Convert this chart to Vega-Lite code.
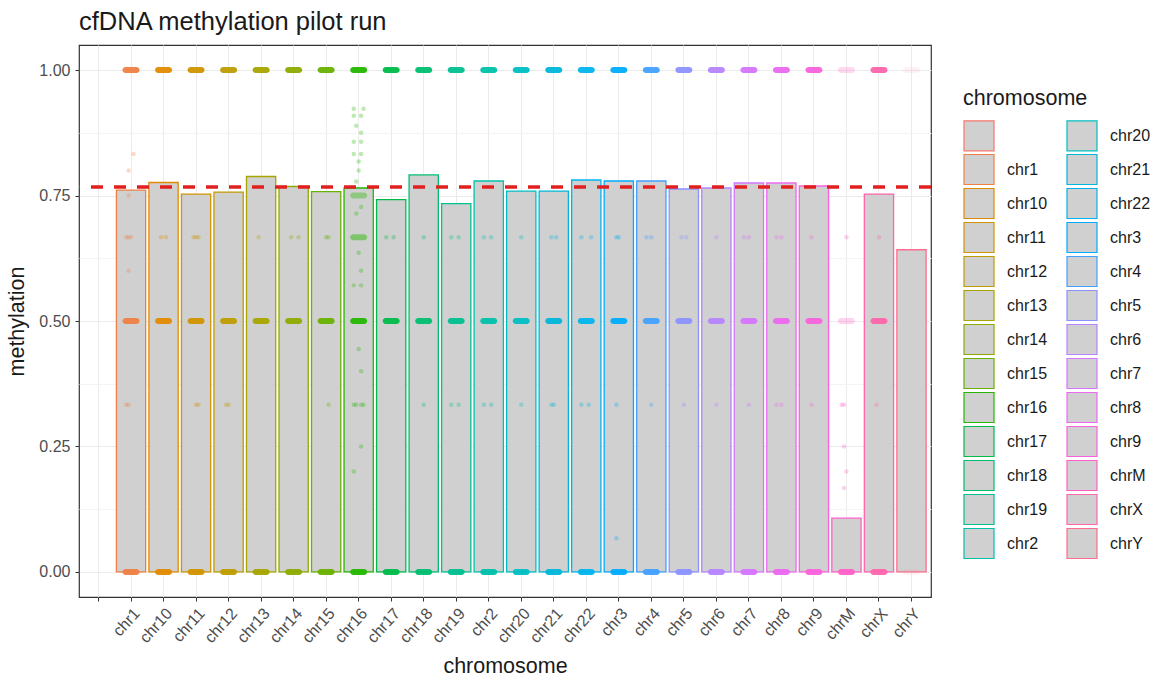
{
  "$schema": "https://vega.github.io/schema/vega-lite/v6.json",
  "width": 852,
  "height": 552,
  "autosize": {"type": "none"},
  "padding": {"left": 79, "top": 45, "right": 230, "bottom": 80},
  "title": {"text": "cfDNA methylation pilot run", "anchor": "start", "frame": "group", "fontSize": 25.5, "fontWeight": "normal", "color": "#1a1a1a", "offset": 10, "font": "Liberation Sans"},
  "config": {
    "font": "Liberation Sans",
    "view": {"stroke": "#333333", "strokeWidth": 1.2},
    "axis": {"domain": false, "grid": true, "gridColor": "#EBEBEB", "gridWidth": 1, "tickColor": "#333333", "tickSize": 4, "labelColor": "#4D4D4D", "labelFontSize": 16, "titleFontSize": 21.5, "titleFontWeight": "normal", "titleColor": "#1a1a1a"},
    "legend": {"orient": "none", "legendX": 884, "legendY": 43, "columns": 2, "symbolType": "square", "symbolSize": 900, "symbolStrokeWidth": 1.2, "labelFontSize": 16, "labelColor": "#1a1a1a", "titleFontSize": 21.5, "titleFontWeight": "normal", "titleColor": "#1a1a1a", "rowPadding": -2.5, "columnPadding": 16, "labelOffset": 12, "titlePadding": 10, "padding": 0, "symbolOpacity": 1}
  },
  "resolve": {"scale": {"xOffset": "independent"}},
  "datasets": {
    "bars": [
      {"chromosome": "chr1", "methylation": 0.761},
      {"chromosome": "chr10", "methylation": 0.776},
      {"chromosome": "chr11", "methylation": 0.753},
      {"chromosome": "chr12", "methylation": 0.757},
      {"chromosome": "chr13", "methylation": 0.788},
      {"chromosome": "chr14", "methylation": 0.768},
      {"chromosome": "chr15", "methylation": 0.758},
      {"chromosome": "chr16", "methylation": 0.765},
      {"chromosome": "chr17", "methylation": 0.742},
      {"chromosome": "chr18", "methylation": 0.791},
      {"chromosome": "chr19", "methylation": 0.734},
      {"chromosome": "chr2", "methylation": 0.779},
      {"chromosome": "chr20", "methylation": 0.759},
      {"chromosome": "chr21", "methylation": 0.759},
      {"chromosome": "chr22", "methylation": 0.781},
      {"chromosome": "chr3", "methylation": 0.779},
      {"chromosome": "chr4", "methylation": 0.779},
      {"chromosome": "chr5", "methylation": 0.763},
      {"chromosome": "chr6", "methylation": 0.765},
      {"chromosome": "chr7", "methylation": 0.775},
      {"chromosome": "chr8", "methylation": 0.775},
      {"chromosome": "chr9", "methylation": 0.769},
      {"chromosome": "chrM", "methylation": 0.107},
      {"chromosome": "chrX", "methylation": 0.753},
      {"chromosome": "chrY", "methylation": 0.642}
    ],
    "dash": [
      {"chromosome": "chr1", "methylation": 0, "n": 40}, {"chromosome": "chr1", "methylation": 0.5, "n": 40}, {"chromosome": "chr1", "methylation": 1, "n": 40},
      {"chromosome": "chr10", "methylation": 0, "n": 40}, {"chromosome": "chr10", "methylation": 0.5, "n": 40}, {"chromosome": "chr10", "methylation": 1, "n": 40},
      {"chromosome": "chr11", "methylation": 0, "n": 40}, {"chromosome": "chr11", "methylation": 0.5, "n": 40}, {"chromosome": "chr11", "methylation": 1, "n": 40},
      {"chromosome": "chr12", "methylation": 0, "n": 40}, {"chromosome": "chr12", "methylation": 0.5, "n": 40}, {"chromosome": "chr12", "methylation": 1, "n": 40},
      {"chromosome": "chr13", "methylation": 0, "n": 40}, {"chromosome": "chr13", "methylation": 0.5, "n": 40}, {"chromosome": "chr13", "methylation": 1, "n": 40},
      {"chromosome": "chr14", "methylation": 0, "n": 40}, {"chromosome": "chr14", "methylation": 0.5, "n": 40}, {"chromosome": "chr14", "methylation": 1, "n": 40},
      {"chromosome": "chr15", "methylation": 0, "n": 40}, {"chromosome": "chr15", "methylation": 0.5, "n": 40}, {"chromosome": "chr15", "methylation": 1, "n": 40},
      {"chromosome": "chr16", "methylation": 0, "n": 40}, {"chromosome": "chr16", "methylation": 0.5, "n": 40}, {"chromosome": "chr16", "methylation": 1, "n": 40},
      {"chromosome": "chr16", "methylation": 0.75, "n": 8}, {"chromosome": "chr16", "methylation": 0.667, "n": 10},
      {"chromosome": "chr17", "methylation": 0, "n": 40}, {"chromosome": "chr17", "methylation": 0.5, "n": 40}, {"chromosome": "chr17", "methylation": 1, "n": 40},
      {"chromosome": "chr18", "methylation": 0, "n": 40}, {"chromosome": "chr18", "methylation": 0.5, "n": 40}, {"chromosome": "chr18", "methylation": 1, "n": 40},
      {"chromosome": "chr19", "methylation": 0, "n": 40}, {"chromosome": "chr19", "methylation": 0.5, "n": 40}, {"chromosome": "chr19", "methylation": 1, "n": 40},
      {"chromosome": "chr2", "methylation": 0, "n": 40}, {"chromosome": "chr2", "methylation": 0.5, "n": 40}, {"chromosome": "chr2", "methylation": 1, "n": 40},
      {"chromosome": "chr20", "methylation": 0, "n": 40}, {"chromosome": "chr20", "methylation": 0.5, "n": 40}, {"chromosome": "chr20", "methylation": 1, "n": 40},
      {"chromosome": "chr21", "methylation": 0, "n": 40}, {"chromosome": "chr21", "methylation": 0.5, "n": 40}, {"chromosome": "chr21", "methylation": 1, "n": 40},
      {"chromosome": "chr22", "methylation": 0, "n": 40}, {"chromosome": "chr22", "methylation": 0.5, "n": 40}, {"chromosome": "chr22", "methylation": 1, "n": 40},
      {"chromosome": "chr3", "methylation": 0, "n": 40}, {"chromosome": "chr3", "methylation": 0.5, "n": 40}, {"chromosome": "chr3", "methylation": 1, "n": 40},
      {"chromosome": "chr4", "methylation": 0, "n": 40}, {"chromosome": "chr4", "methylation": 0.5, "n": 40}, {"chromosome": "chr4", "methylation": 1, "n": 40},
      {"chromosome": "chr5", "methylation": 0, "n": 40}, {"chromosome": "chr5", "methylation": 0.5, "n": 40}, {"chromosome": "chr5", "methylation": 1, "n": 40},
      {"chromosome": "chr6", "methylation": 0, "n": 40}, {"chromosome": "chr6", "methylation": 0.5, "n": 40}, {"chromosome": "chr6", "methylation": 1, "n": 40},
      {"chromosome": "chr7", "methylation": 0, "n": 40}, {"chromosome": "chr7", "methylation": 0.5, "n": 40}, {"chromosome": "chr7", "methylation": 1, "n": 40},
      {"chromosome": "chr8", "methylation": 0, "n": 40}, {"chromosome": "chr8", "methylation": 0.5, "n": 40}, {"chromosome": "chr8", "methylation": 1, "n": 40},
      {"chromosome": "chr9", "methylation": 0, "n": 40}, {"chromosome": "chr9", "methylation": 0.5, "n": 40}, {"chromosome": "chr9", "methylation": 1, "n": 40},
      {"chromosome": "chrM", "methylation": 0, "n": 40}, {"chromosome": "chrM", "methylation": 0.5, "n": 6}, {"chromosome": "chrM", "methylation": 1, "n": 5},
      {"chromosome": "chrX", "methylation": 0, "n": 40}, {"chromosome": "chrX", "methylation": 0.5, "n": 40}, {"chromosome": "chrX", "methylation": 1, "n": 40},
      {"chromosome": "chrY", "methylation": 0, "n": 2}, {"chromosome": "chrY", "methylation": 1, "n": 2}
    ],
    "pts": [
      {"chromosome": "chr1", "methylation": 0.833, "j": 1}, {"chromosome": "chr1", "methylation": 0.8, "j": -1}, {"chromosome": "chr1", "methylation": 0.75, "j": -1},
      {"chromosome": "chr1", "methylation": 0.667, "j": -2}, {"chromosome": "chr1", "methylation": 0.667, "j": -1}, {"chromosome": "chr1", "methylation": 0.667, "j": 0},
      {"chromosome": "chr1", "methylation": 0.6, "j": -1}, {"chromosome": "chr1", "methylation": 0.333, "j": -2}, {"chromosome": "chr1", "methylation": 0.333, "j": -1},
      {"chromosome": "chr10", "methylation": 0.667, "j": -1}, {"chromosome": "chr10", "methylation": 0.667, "j": 1},
      {"chromosome": "chr11", "methylation": 0.667, "j": -1}, {"chromosome": "chr11", "methylation": 0.667, "j": 0}, {"chromosome": "chr11", "methylation": 0.667, "j": 1},
      {"chromosome": "chr11", "methylation": 0.333, "j": 0}, {"chromosome": "chr11", "methylation": 0.333, "j": 1},
      {"chromosome": "chr12", "methylation": 0.333, "j": -1}, {"chromosome": "chr12", "methylation": 0.333, "j": 0},
      {"chromosome": "chr13", "methylation": 0.667, "j": -1},
      {"chromosome": "chr14", "methylation": 0.667, "j": -1}, {"chromosome": "chr14", "methylation": 0.667, "j": 2},
      {"chromosome": "chr15", "methylation": 0.667, "j": 0}, {"chromosome": "chr15", "methylation": 0.667, "j": 1}, {"chromosome": "chr15", "methylation": 0.333, "j": 1},
      {"chromosome": "chr16", "methylation": 0.923, "j": -2}, {"chromosome": "chr16", "methylation": 0.923, "j": 2}, {"chromosome": "chr16", "methylation": 0.909, "j": -2},
      {"chromosome": "chr16", "methylation": 0.909, "j": 1}, {"chromosome": "chr16", "methylation": 0.889, "j": -1}, {"chromosome": "chr16", "methylation": 0.875, "j": 1},
      {"chromosome": "chr16", "methylation": 0.857, "j": -2}, {"chromosome": "chr16", "methylation": 0.857, "j": 1}, {"chromosome": "chr16", "methylation": 0.833, "j": -2},
      {"chromosome": "chr16", "methylation": 0.833, "j": 1}, {"chromosome": "chr16", "methylation": 0.818, "j": 0}, {"chromosome": "chr16", "methylation": 0.8, "j": 0},
      {"chromosome": "chr16", "methylation": 0.778, "j": -1}, {"chromosome": "chr16", "methylation": 0.727, "j": 1}, {"chromosome": "chr16", "methylation": 0.714, "j": -1},
      {"chromosome": "chr16", "methylation": 0.636, "j": 0}, {"chromosome": "chr16", "methylation": 0.6, "j": 1}, {"chromosome": "chr16", "methylation": 0.571, "j": -2},
      {"chromosome": "chr16", "methylation": 0.571, "j": 1}, {"chromosome": "chr16", "methylation": 0.444, "j": 0}, {"chromosome": "chr16", "methylation": 0.4, "j": 1},
      {"chromosome": "chr16", "methylation": 0.333, "j": -2}, {"chromosome": "chr16", "methylation": 0.333, "j": -1}, {"chromosome": "chr16", "methylation": 0.333, "j": 1},
      {"chromosome": "chr16", "methylation": 0.333, "j": 2}, {"chromosome": "chr16", "methylation": 0.25, "j": 1}, {"chromosome": "chr16", "methylation": 0.2, "j": -2},
      {"chromosome": "chr17", "methylation": 0.667, "j": -2}, {"chromosome": "chr17", "methylation": 0.667, "j": 1},
      {"chromosome": "chr18", "methylation": 0.667, "j": 0}, {"chromosome": "chr18", "methylation": 0.333, "j": 0},
      {"chromosome": "chr19", "methylation": 0.667, "j": -2}, {"chromosome": "chr19", "methylation": 0.667, "j": 1}, {"chromosome": "chr19", "methylation": 0.333, "j": -2}, {"chromosome": "chr19", "methylation": 0.333, "j": 1},
      {"chromosome": "chr2", "methylation": 0.667, "j": -2}, {"chromosome": "chr2", "methylation": 0.667, "j": 1}, {"chromosome": "chr2", "methylation": 0.333, "j": -2}, {"chromosome": "chr2", "methylation": 0.333, "j": 1},
      {"chromosome": "chr20", "methylation": 0.667, "j": 0}, {"chromosome": "chr20", "methylation": 0.333, "j": 0},
      {"chromosome": "chr21", "methylation": 0.667, "j": -1}, {"chromosome": "chr21", "methylation": 0.667, "j": 1}, {"chromosome": "chr21", "methylation": 0.333, "j": -1}, {"chromosome": "chr21", "methylation": 0.333, "j": 0},
      {"chromosome": "chr22", "methylation": 0.667, "j": -2}, {"chromosome": "chr22", "methylation": 0.667, "j": 2}, {"chromosome": "chr22", "methylation": 0.333, "j": -2}, {"chromosome": "chr22", "methylation": 0.333, "j": 1},
      {"chromosome": "chr3", "methylation": 0.667, "j": -1}, {"chromosome": "chr3", "methylation": 0.667, "j": 0}, {"chromosome": "chr3", "methylation": 0.333, "j": -1}, {"chromosome": "chr3", "methylation": 0.067, "j": -1},
      {"chromosome": "chr4", "methylation": 0.667, "j": -2}, {"chromosome": "chr4", "methylation": 0.667, "j": 0}, {"chromosome": "chr4", "methylation": 0.333, "j": 0},
      {"chromosome": "chr5", "methylation": 0.667, "j": -1}, {"chromosome": "chr5", "methylation": 0.667, "j": 1}, {"chromosome": "chr5", "methylation": 0.333, "j": 0},
      {"chromosome": "chr6", "methylation": 0.667, "j": 0}, {"chromosome": "chr6", "methylation": 0.333, "j": 0},
      {"chromosome": "chr7", "methylation": 0.667, "j": -2}, {"chromosome": "chr7", "methylation": 0.667, "j": 0}, {"chromosome": "chr7", "methylation": 0.333, "j": 0},
      {"chromosome": "chr8", "methylation": 0.667, "j": -2}, {"chromosome": "chr8", "methylation": 0.667, "j": 0}, {"chromosome": "chr8", "methylation": 0.333, "j": -2}, {"chromosome": "chr8", "methylation": 0.333, "j": 0},
      {"chromosome": "chr9", "methylation": 0.667, "j": -1}, {"chromosome": "chr9", "methylation": 0.333, "j": -1},
      {"chromosome": "chrM", "methylation": 0.667, "j": 0}, {"chromosome": "chrM", "methylation": 0.333, "j": -2}, {"chromosome": "chrM", "methylation": 0.333, "j": -1},
      {"chromosome": "chrM", "methylation": 0.25, "j": -1}, {"chromosome": "chrM", "methylation": 0.2, "j": 0}, {"chromosome": "chrM", "methylation": 0.167, "j": -1},
      {"chromosome": "chrX", "methylation": 0.667, "j": 0}, {"chromosome": "chrX", "methylation": 0.333, "j": -1}
    ],
    "threshold": [{"methylation": 0.767}]
  },
  "encoding": {
    "x": {"field": "chromosome", "type": "nominal",
      "scale": {"type": "band", "domain": ["", "chr1", "chr10", "chr11", "chr12", "chr13", "chr14", "chr15", "chr16", "chr17", "chr18", "chr19", "chr2", "chr20", "chr21", "chr22", "chr3", "chr4", "chr5", "chr6", "chr7", "chr8", "chr9", "chrM", "chrX", "chrY"], "paddingInner": 0.1, "paddingOuter": 0.15},
      "axis": {"title": "chromosome", "labelAngle": -48, "labelAlign": "right", "labelBaseline": "top", "labelPadding": 4, "bandPosition": 0.5, "titlePadding": 10}},
    "y": {"field": "methylation", "type": "quantitative",
      "scale": {"domain": [-0.05, 1.05], "nice": false, "zero": false},
      "axis": {"title": "methylation", "values": [0, 0.125, 0.25, 0.375, 0.5, 0.625, 0.75, 0.875, 1],
        "labelExpr": "(datum.value * 4) % 1 == 0 ? format(datum.value, '.2f') : ''",
        "tickOpacity": {"condition": {"test": "(datum.value * 4) % 1 != 0", "value": 0}, "value": 1},
        "gridColor": {"condition": {"test": "(datum.value * 4) % 1 != 0", "value": "#F4F4F4"}, "value": "#EBEBEB"},
        "labelPadding": 5, "titlePadding": 10}},
    "color": {"field": "chromosome", "type": "nominal",
      "scale": {"domain": ["", "chr1", "chr10", "chr11", "chr12", "chr13", "chr14", "chr15", "chr16", "chr17", "chr18", "chr19", "chr2", "chr20", "chr21", "chr22", "chr3", "chr4", "chr5", "chr6", "chr7", "chr8", "chr9", "chrM", "chrX", "chrY"],
        "range": ["#F8766D", "#EE8043", "#E18A00", "#D19300", "#BE9C00", "#A8A400", "#8CAB00", "#68B100", "#24B700", "#00BB49", "#00BE70", "#00C090", "#00C1AB", "#00BFC4", "#00B6DA", "#00B5ED", "#00ACFC", "#42A0FF", "#8B92FF", "#B684FF", "#D575FE", "#EB69F0", "#F962DD", "#FF61C6", "#FF65AC", "#FE6D8E"]},
      "legend": null}
  },
  "layer": [
    {
      "data": {"name": "bars"},
      "mark": {"type": "bar", "strokeWidth": 1.3, "fillOpacity": 1},
      "encoding": {
        "y2": {"datum": 0},
        "color": null,
        "fill": {"field": "chromosome", "type": "nominal",
          "scale": {"domain": ["", "chr1", "chr10", "chr11", "chr12", "chr13", "chr14", "chr15", "chr16", "chr17", "chr18", "chr19", "chr2", "chr20", "chr21", "chr22", "chr3", "chr4", "chr5", "chr6", "chr7", "chr8", "chr9", "chrM", "chrX", "chrY"],
            "range": ["#d0d0d0", "#d0d0d0", "#d0d0d0", "#d0d0d0", "#d0d0d0", "#d0d0d0", "#d0d0d0", "#d0d0d0", "#d0d0d0", "#d0d0d0", "#d0d0d0", "#d0d0d0", "#d0d0d0", "#d0d0d0", "#d0d0d0", "#d0d0d0", "#d0d0d0", "#d0d0d0", "#d0d0d0", "#d0d0d0", "#d0d0d0", "#d0d0d0", "#d0d0d0", "#d0d0d0", "#d0d0d0", "#d0d0d0"]},
          "legend": {"title": "chromosome"}},
        "stroke": {"field": "chromosome", "type": "nominal",
          "scale": {"domain": ["", "chr1", "chr10", "chr11", "chr12", "chr13", "chr14", "chr15", "chr16", "chr17", "chr18", "chr19", "chr2", "chr20", "chr21", "chr22", "chr3", "chr4", "chr5", "chr6", "chr7", "chr8", "chr9", "chrM", "chrX", "chrY"],
            "range": ["#F8766D", "#EE8043", "#E18A00", "#D19300", "#BE9C00", "#A8A400", "#8CAB00", "#68B100", "#24B700", "#00BB49", "#00BE70", "#00C090", "#00C1AB", "#00BFC4", "#00B6DA", "#00B5ED", "#00ACFC", "#42A0FF", "#8B92FF", "#B684FF", "#D575FE", "#EB69F0", "#F962DD", "#FF61C6", "#FF65AC", "#FE6D8E"]},
          "legend": {"title": "chromosome"}}
      }
    },
    {
      "data": {"name": "dash"},
      "mark": {"type": "tick", "size": 17, "thickness": 6, "cornerRadius": 3},
      "encoding": {
        "opacity": {"field": "n", "type": "quantitative", "scale": {"domain": [0, 20], "range": [0, 0.95], "clamp": true}, "legend": null}
      }
    },
    {
      "data": {"name": "pts"},
      "mark": {"type": "circle", "size": 20, "opacity": 0.3},
      "encoding": {
        "xOffset": {"field": "j", "type": "quantitative", "scale": {"domain": [-6, 6]}}
      }
    },
    {
      "data": {"name": "threshold"},
      "mark": {"type": "rule", "color": "#E0201E", "strokeWidth": 3.5, "strokeDash": [12, 11]},
      "encoding": {"x": null, "color": null}
    }
  ]
}
